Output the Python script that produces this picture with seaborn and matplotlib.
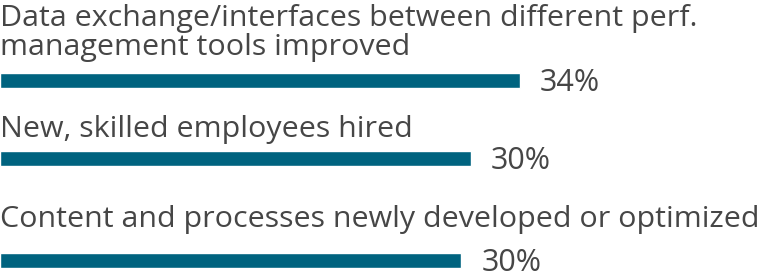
import matplotlib
matplotlib.use("Agg")
import matplotlib.pyplot as plt
import seaborn as sns
import pandas as pd

# ---- data ----
categories = [
    "Data exchange/interfaces between different perf.\nmanagement tools improved",
    "New, skilled employees hired",
    "Content and processes newly developed or optimized",
]
values = [33.6, 30.4, 29.8]
value_labels = ["34%", "30%", "30%"]

# ---- style / layout ----
sns.set_theme(style="white")
plt.rcParams["font.family"] = ["Open Sans", "DejaVu Sans"]

W, H = 764, 280
bar_color = "#00637f"
text_color = "#464646"
label_size = 21.9
value_size = 22
label_baseline_px = [55, 136.7, 226.7]   # baseline of last label line
bar_center_px = [80.5, 158.5, 260.0]
bar_h_px = 15.0
xmax = 49.35
gap_px = 20
half_digit_px = 10.7

fig = plt.figure(figsize=(W / 100, H / 100), dpi=100)

for i, (cat, val, lab) in enumerate(zip(categories, values, value_labels)):
    ax_h = bar_h_px / 0.8
    ax = fig.add_axes([0, 1 - (bar_center_px[i] + ax_h / 2) / H, 1, ax_h / H])
    df = pd.DataFrame({"cat": [cat], "val": [val]})
    sns.barplot(data=df, x="val", y="cat", orient="h", color=bar_color,
                width=0.8, saturation=1, ax=ax)
    ax.set_xlim(0, xmax)
    ax.set_ylim(0.5, -0.5)
    ax.axis("off")
    ax.annotate(lab, xy=(val, 0), xytext=(gap_px, -half_digit_px),
                textcoords="offset pixels", ha="left", va="baseline",
                fontsize=value_size, color=text_color)
    fig.text(0, 1 - label_baseline_px[i] / H, cat, ha="left", va="baseline",
             fontsize=label_size, color=text_color, linespacing=1.0)

fig.savefig("out.png", dpi=100)
